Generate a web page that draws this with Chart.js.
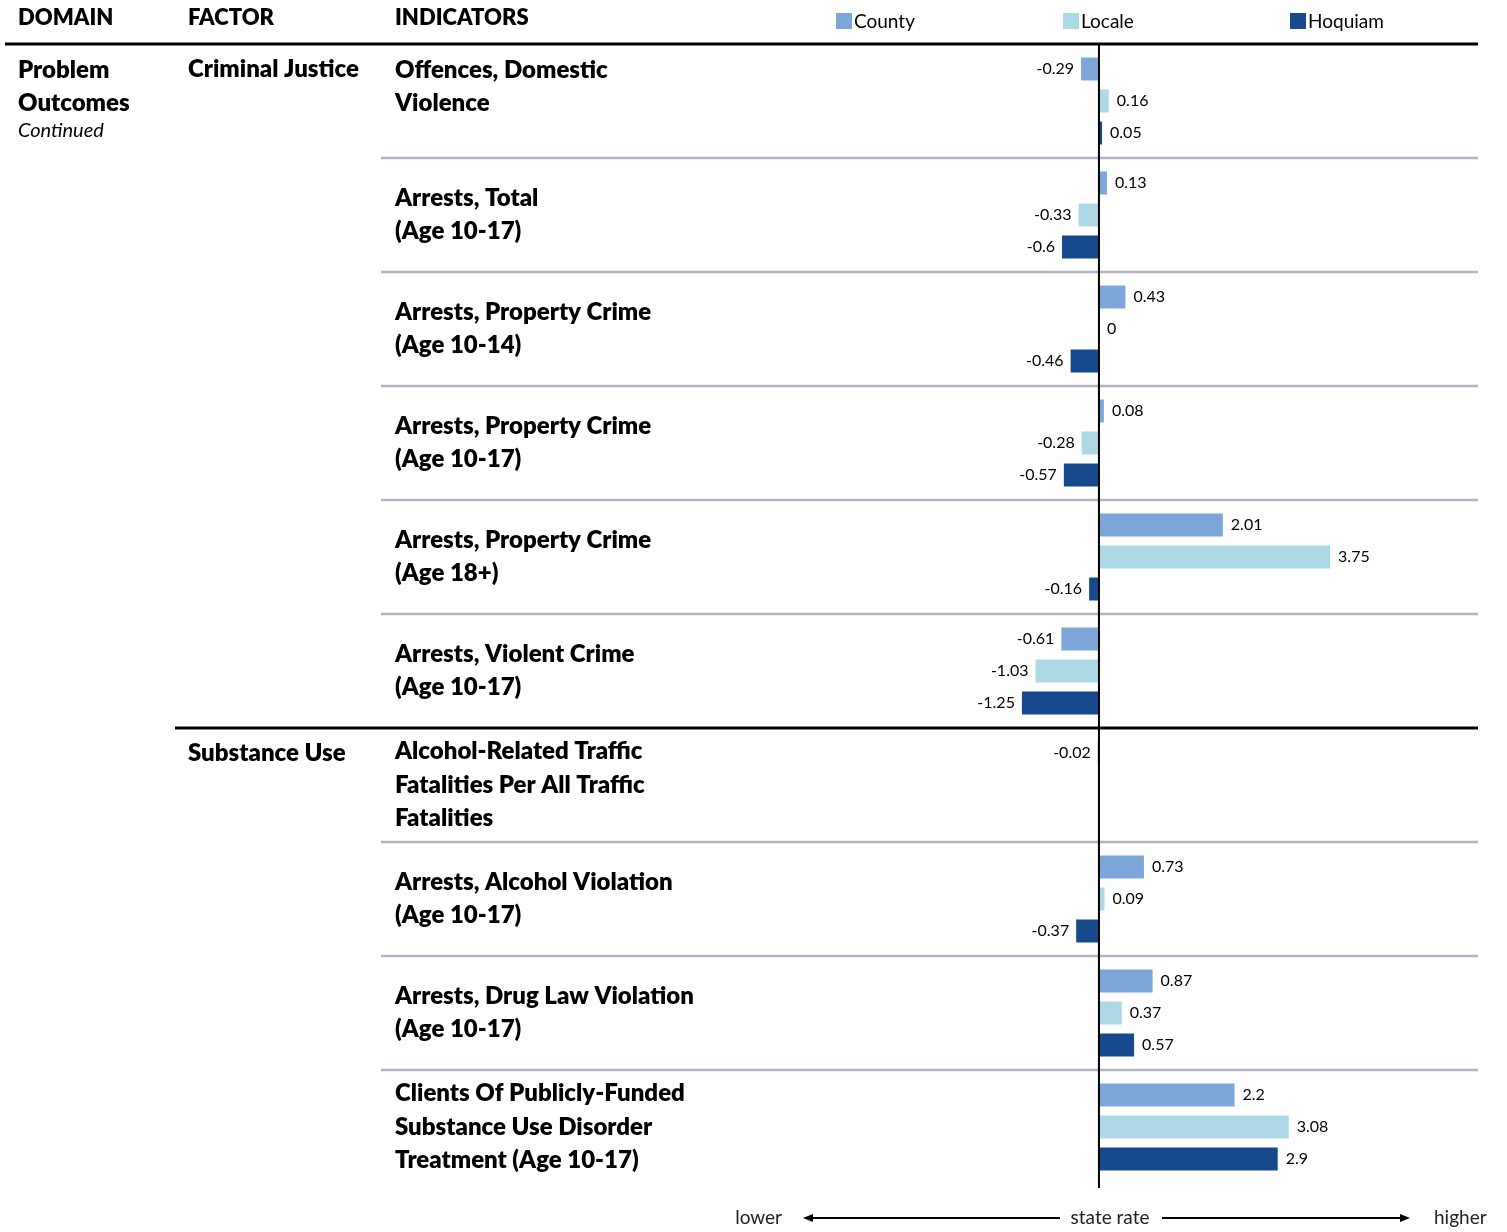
<!DOCTYPE html>
<html>
<head>
<meta charset="utf-8">
<title>Indicators vs state rate</title>
<script src="https://cdn.jsdelivr.net/npm/chart.js@4.4.1/dist/chart.umd.min.js"></script>
<style>
  html, body { margin: 0; padding: 0; background: #fff; }
  #wrap { width: 1507px; height: 1232px; position: relative; }
</style>
</head>
<body>
<div id="wrap"><canvas id="chart" width="1507" height="1232"></canvas></div>
<script>
// table text
const headers = ['DOMAIN', 'FACTOR', 'INDICATORS'];
const domain = ['Problem', 'Outcomes'];
const domainNote = 'Continued';
const factors = ['Criminal Justice', '', '', '', '', '', 'Substance Use', '', '', ''];
const indicators = [
  ['Offences, Domestic', 'Violence'],
  ['Arrests, Total', '(Age 10-17)'],
  ['Arrests, Property Crime', '(Age 10-14)'],
  ['Arrests, Property Crime', '(Age 10-17)'],
  ['Arrests, Property Crime', '(Age 18+)'],
  ['Arrests, Violent Crime', '(Age 10-17)'],
  ['Alcohol-Related Traffic', 'Fatalities Per All Traffic', 'Fatalities'],
  ['Arrests, Alcohol Violation', '(Age 10-17)'],
  ['Arrests, Drug Law Violation', '(Age 10-17)'],
  ['Clients Of Publicly-Funded', 'Substance Use Disorder', 'Treatment (Age 10-17)']
];

// series (difference from state rate)
const seriesNames = ['County', 'Locale', 'Hoquiam'];
const county  = [-0.29, 0.13, 0.43, 0.08, 2.01, -0.61, -0.02, 0.73, 0.87, 2.2];
const locale  = [0.16, -0.33, 0, -0.28, 3.75, -1.03, null, 0.09, 0.37, 3.08];
const hoquiam = [0.05, -0.6, -0.46, -0.57, -0.16, -1.25, null, -0.37, 0.57, 2.9];
const seriesColors = ['#7ea7d9', '#add8e6', '#174a8c'];

const axisNotes = ['lower', 'state rate', 'higher'];

const FONT = 'Lato, "Open Sans", sans-serif';
const BOLD = '800 24px Lato, "Open Sans", sans-serif';
const HEAD = '800 22px Lato, "Open Sans", sans-serif';

const tablePlugin = {
  id: 'table',
  afterDraw(chart) {
    const ctx = chart.ctx;
    const area = chart.chartArea;
    const y = chart.scales.y;
    const x = chart.scales.x;
    const zero = x.getPixelForValue(0);
    const n = indicators.length;

    ctx.save();

    // row separators
    for (let i = 0; i < n - 1; i++) {
      const yy = Math.round((y.getPixelForValue(i) + y.getPixelForValue(i + 1)) / 2);
      if (factors[i + 1]) {
        ctx.strokeStyle = '#000';
        ctx.lineWidth = 3;
        ctx.beginPath(); ctx.moveTo(175, yy); ctx.lineTo(1478, yy); ctx.stroke();
      } else {
        ctx.strokeStyle = '#b4b3c3';
        ctx.lineWidth = 2.5;
        ctx.beginPath(); ctx.moveTo(381, yy); ctx.lineTo(1478, yy); ctx.stroke();
      }
    }

    // header rule
    ctx.strokeStyle = '#000';
    ctx.lineWidth = 3;
    ctx.beginPath(); ctx.moveTo(5, area.top); ctx.lineTo(1478, area.top); ctx.stroke();

    // zero line
    ctx.lineWidth = 2;
    ctx.beginPath(); ctx.moveTo(zero, area.top); ctx.lineTo(zero, area.bottom + 4); ctx.stroke();

    // headers
    ctx.fillStyle = '#000';
    ctx.textBaseline = 'middle';
    ctx.textAlign = 'left';
    ctx.font = HEAD;
    ctx.fillText(headers[0], 18, 18);
    ctx.fillText(headers[1], 188, 18);
    ctx.fillText(headers[2], 395, 18);

    // legend
    ctx.font = '19px ' + FONT;
    const legX = [836, 1063, 1290];
    seriesNames.forEach((name, i) => {
      ctx.fillStyle = seriesColors[i];
      ctx.fillRect(legX[i], 13, 16, 16);
      ctx.fillStyle = '#000';
      ctx.fillText(name, legX[i] + 18, 22);
    });

    // domain column
    ctx.font = BOLD;
    ctx.fillText(domain[0], 18, area.top + 26);
    ctx.fillText(domain[1], 18, area.top + 59);
    ctx.font = 'italic 20px ' + FONT;
    ctx.fillText(domainNote, 18, area.top + 87);

    // factor + indicator columns
    const lineH = 33.5;
    for (let i = 0; i < n; i++) {
      const top = i === 0 ? area.top : (y.getPixelForValue(i - 1) + y.getPixelForValue(i)) / 2;
      ctx.font = BOLD;
      if (factors[i]) ctx.fillText(factors[i], 188, top + 25);
      const lines = indicators[i];
      let first;
      if (i === 0) first = top + 26;
      else first = y.getPixelForValue(i) - (lines.length - 1) * lineH / 2;
      lines.forEach((t, k) => ctx.fillText(t, 395, first + k * lineH));
    }

    // value labels
    ctx.font = '16px ' + FONT;
    chart.data.datasets.forEach((ds, di) => {
      const meta = chart.getDatasetMeta(di);
      meta.data.forEach((el, j) => {
        const v = ds.data[j];
        if (v === null || v === undefined) return;
        if (v < 0) { ctx.textAlign = 'right'; ctx.fillText(String(v), el.x - 7, el.y); }
        else { ctx.textAlign = 'left'; ctx.fillText(String(v), el.x + 8, el.y); }
      });
    });

    // bottom axis note
    const by = 1218;
    ctx.font = '19px ' + FONT;
    ctx.fillStyle = '#222';
    ctx.textAlign = 'right';
    ctx.fillText(axisNotes[0], 782, by);
    ctx.textAlign = 'center';
    ctx.fillText(axisNotes[1], 1110, by);
    ctx.textAlign = 'left';
    ctx.fillText(axisNotes[2], 1434, by);

    ctx.strokeStyle = '#000';
    ctx.fillStyle = '#000';
    ctx.lineWidth = 2;
    ctx.beginPath(); ctx.moveTo(1060, by); ctx.lineTo(810, by); ctx.stroke();
    ctx.beginPath(); ctx.moveTo(803, by); ctx.lineTo(813, by - 4); ctx.lineTo(813, by + 4); ctx.closePath(); ctx.fill();
    ctx.beginPath(); ctx.moveTo(1162, by); ctx.lineTo(1403, by); ctx.stroke();
    ctx.beginPath(); ctx.moveTo(1410, by); ctx.lineTo(1400, by - 4); ctx.lineTo(1400, by + 4); ctx.closePath(); ctx.fill();

    ctx.restore();
  }
};

const ctx = document.getElementById('chart').getContext('2d');
new Chart(ctx, {
  type: 'bar',
  data: {
    labels: indicators,
    datasets: [
      { label: seriesNames[0], data: county, backgroundColor: seriesColors[0] },
      { label: seriesNames[1], data: locale, backgroundColor: seriesColors[1] },
      { label: seriesNames[2], data: hoquiam, backgroundColor: seriesColors[2] }
    ]
  },
  options: {
    responsive: false,
    animation: false,
    indexAxis: 'y',
    layout: { padding: { left: 723, right: 29, top: 44, bottom: 48 } },
    datasets: { bar: { categoryPercentage: 96 / 114, barPercentage: 23 / 32 } },
    scales: {
      x: { display: false, min: -6.1, max: 6.15 },
      y: { display: false }
    },
    plugins: {
      legend: { display: false },
      tooltip: { enabled: false }
    }
  },
  plugins: [tablePlugin]
});
</script>
</body>
</html>
